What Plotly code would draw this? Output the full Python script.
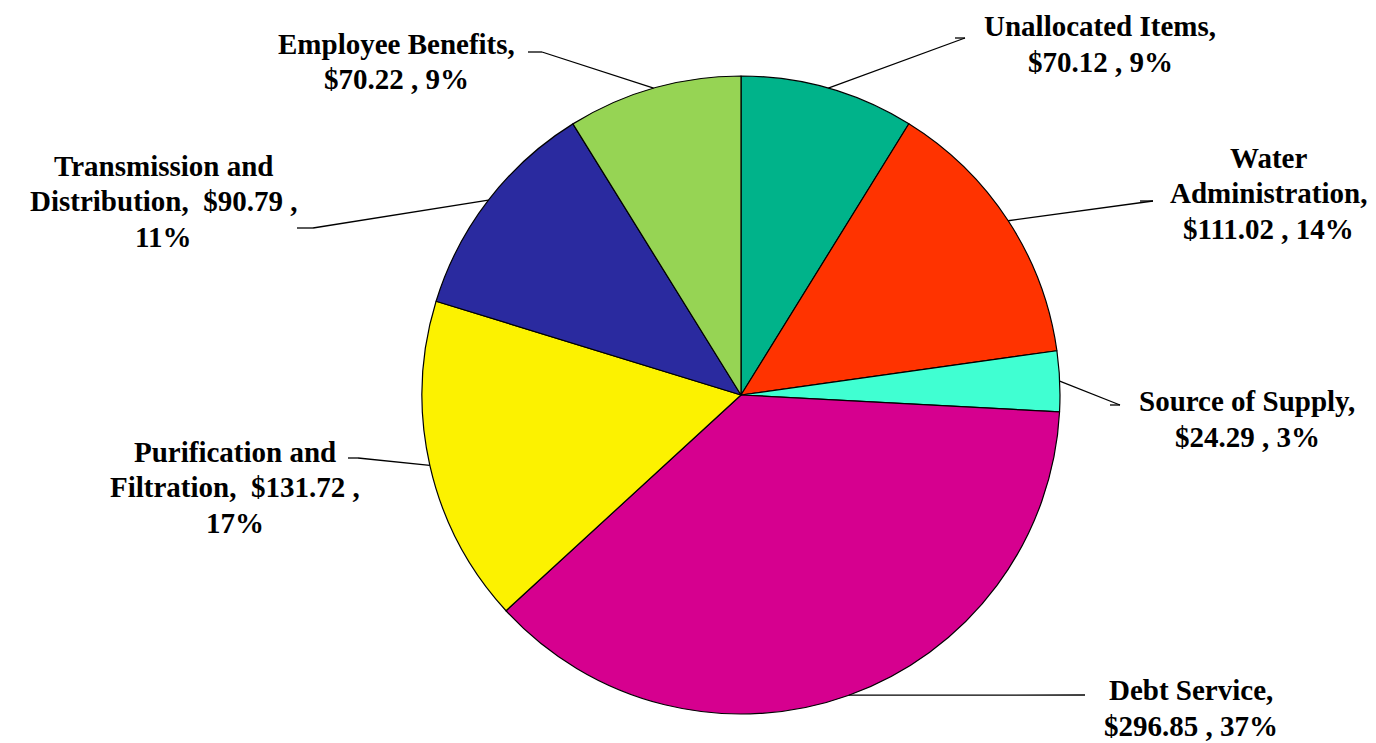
import math
import plotly.graph_objects as go

W, H = 1376, 743

categories = ["Unallocated Items", "Water Administration", "Source of Supply", "Debt Service",
              "Purification and Filtration", "Transmission and Distribution", "Employee Benefits"]
values = [70.12, 111.02, 24.29, 296.85, 131.72, 90.79, 70.22]
colors = ["#00B38A", "#FF3300", "#40FFD2", "#D6008F", "#FCF200", "#2A2A9F", "#96D454"]
label_lines = [
    ["Unallocated Items,", "$70.12 , 9%"],
    ["Water", "Administration,", "$111.02 , 14%"],
    ["Source of Supply,", "$24.29 , 3%"],
    ["Debt Service,", "$296.85 , 37%"],
    ["Purification and", "Filtration,  $131.72 ,", "17%"],
    ["Transmission and", "Distribution,  $90.79 ,", "11%"],
    ["Employee Benefits,", "$70.22 , 9%"],
]

# layout (pixels)
cx, cy, R = 741, 395, 319
line_gap = 35.5
label_pos = [(1100, 26), (1268, 158), (1247, 401), (1191, 690), (235, 452), (163, 166), (396, 44)]
elbows = [((965, 38), (955, 38)), ((1153, 201), (1140, 201)), ((1120, 405), (1110, 405)),
          ((1085, 695), (1085, 695)), ((358, 458), (348, 458)), ((313, 228), (297, 228)),
          ((542, 52), (528, 52))]

def px(x):
    return x / W

def py(y):
    return 1 - y / H

fig = go.Figure(go.Pie(
    labels=categories, values=values, sort=False, direction="clockwise", rotation=0,
    marker=dict(colors=colors, line=dict(color="black", width=1.2)),
    textinfo="none", hoverinfo="label+value+percent", showlegend=False,
    domain=dict(x=[px(cx - R), px(cx + R)], y=[py(cy + R), py(cy - R)]),
))

total = sum(values)
shapes = []
annotations = []
cum = 0
for i, v in enumerate(values):
    mid = (cum + v / 2) / total * 2 * math.pi
    cum += v
    ex = cx + R * math.sin(mid)
    ey = cy - R * math.cos(mid)
    (e1x, e1y), (e2x, e2y) = elbows[i]
    shapes.append(dict(type="line", xref="paper", yref="paper", x0=px(ex), y0=py(ey),
                       x1=px(e1x), y1=py(e1y), line=dict(color="black", width=1.3)))
    if (e1x, e1y) != (e2x, e2y):
        shapes.append(dict(type="line", xref="paper", yref="paper", x0=px(e1x), y0=py(e1y),
                           x1=px(e2x), y1=py(e2y), line=dict(color="black", width=1.3)))
    lx, ly = label_pos[i]
    for j, line in enumerate(label_lines[i]):
        annotations.append(dict(x=px(lx), y=py(ly + j * line_gap), xref="paper", yref="paper",
                                xanchor="center", yanchor="middle", showarrow=False,
                                text="<b>" + line.replace("  ", "&nbsp; ") + "</b>",
                                font=dict(family="Liberation Serif, Times New Roman, serif",
                                          size=29, color="black")))

fig.update_layout(width=W, height=H, margin=dict(l=0, r=0, t=0, b=0),
                  paper_bgcolor="white", plot_bgcolor="white",
                  shapes=shapes, annotations=annotations)
fig.write_html("out.html", config={"displayModeBar": False},
               post_script="document.body.style.margin='0px';document.body.style.overflow='hidden';")
